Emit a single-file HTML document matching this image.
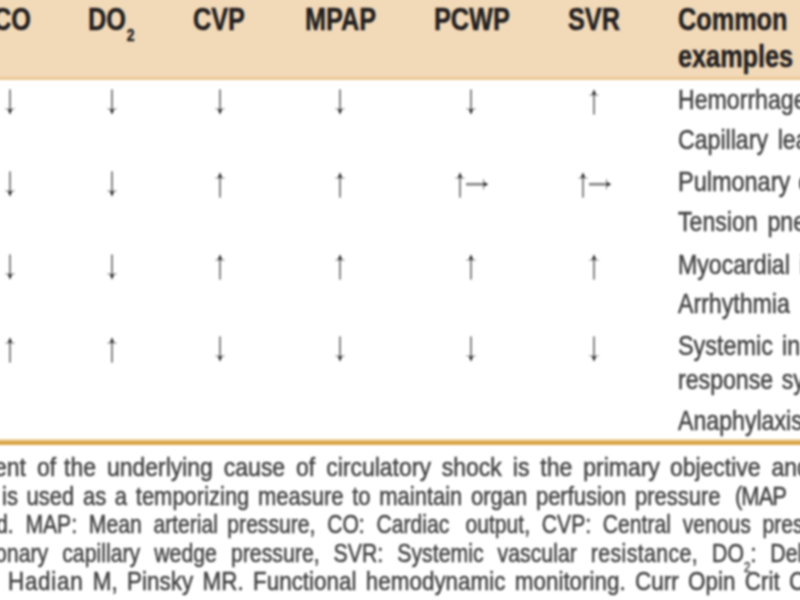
<!DOCTYPE html>
<html><head><meta charset="utf-8"><title>Table</title>
<style>
html,body{margin:0;padding:0;background:#fff;}
body{width:800px;height:600px;overflow:hidden;position:relative;font-family:"Liberation Sans",sans-serif;}
#wrap{position:absolute;left:0;top:0;filter:blur(1.2px);}
.hdr{position:absolute;left:-20px;top:-20px;width:840px;height:96.5px;background:#f2d9b8;}
.hline{position:absolute;left:-20px;top:76.5px;width:840px;height:3.7px;background:#ebc996;}
.b1{position:absolute;left:-20px;top:439.4px;width:840px;height:2px;background:#eed2a3;}
.b2{position:absolute;left:-20px;top:441.4px;width:840px;height:3.4px;background:#dba446;}
.t{position:absolute;white-space:nowrap;transform-origin:0 0;line-height:normal;-webkit-text-stroke:0.5px;}
.sub{font-size:55%;position:relative;top:0.62em;margin-left:1px;}
.sub2{font-size:54%;position:relative;top:0.70em;}
svg{position:absolute;overflow:visible;}
</style></head><body><div id="wrap">
<div class="hdr"></div><div class="hline"></div><div class="b1"></div><div class="b2"></div>

<div class="t" style="left:-7.5px;top:2.14px;font-size:31px;transform:scaleX(0.815);color:#231f20;font-weight:bold;">CO</div>
<div class="t" style="left:88px;top:2.14px;font-size:31px;transform:scaleX(0.815);color:#231f20;font-weight:bold;">DO<span class="sub">2</span></div>
<div class="t" style="left:193px;top:2.14px;font-size:31px;transform:scaleX(0.815);color:#231f20;font-weight:bold;">CVP</div>
<div class="t" style="left:305px;top:2.14px;font-size:31px;transform:scaleX(0.815);color:#231f20;font-weight:bold;">MPAP</div>
<div class="t" style="left:433.5px;top:2.14px;font-size:31px;transform:scaleX(0.815);color:#231f20;font-weight:bold;">PCWP</div>
<div class="t" style="left:567.5px;top:2.14px;font-size:31px;transform:scaleX(0.815);color:#231f20;font-weight:bold;">SVR</div>
<div class="t" style="left:677.8px;top:2.14px;font-size:31px;transform:scaleX(0.815);color:#231f20;font-weight:bold;">Common</div>
<div class="t" style="left:677.8px;top:38.74px;font-size:31px;transform:scaleX(0.815);color:#231f20;font-weight:bold;">examples</div>
<div class="t" style="left:678.1px;top:84.21px;font-size:28px;transform:scaleX(0.826);color:#424242;">Hemorrhage</div>
<div class="t" style="left:678.1px;top:124.21px;font-size:28px;transform:scaleX(0.826);color:#424242;word-spacing:4px;">Capillary&nbsp;leak</div>
<div class="t" style="left:678.1px;top:166.46px;font-size:28px;transform:scaleX(0.8383899999999999);color:#424242;word-spacing:1.8px;">Pulmonary&nbsp;embolism</div>
<div class="t" style="left:678.1px;top:206.46px;font-size:28px;transform:scaleX(0.826);color:#424242;word-spacing:4px;">Tension&nbsp;pneumothorax</div>
<div class="t" style="left:678.1px;top:248.66px;font-size:28px;transform:scaleX(0.826);color:#424242;word-spacing:4px;">Myocardial&nbsp;infarction</div>
<div class="t" style="left:678.1px;top:287.96px;font-size:28px;transform:scaleX(0.826);color:#424242;">Arrhythmia</div>
<div class="t" style="left:678.1px;top:330.26px;font-size:28px;transform:scaleX(0.835912);color:#424242;word-spacing:3px;">Systemic&nbsp;in</div>
<div class="t" style="left:678.1px;top:364.21px;font-size:28px;transform:scaleX(0.826);color:#424242;word-spacing:2.6px;">response&nbsp;syndrome</div>
<div class="t" style="left:678.1px;top:405.46px;font-size:28px;transform:scaleX(0.826);color:#424242;">Anaphylaxis</div>
<div class="t" style="left:-6.5px;top:452.32px;font-size:26.5px;transform:scaleX(0.867);color:#424242;word-spacing:5.26px;">ent of<i style="margin-left:-3.46px"></i> the underlying cause of circulatory shock is the primary<i style="margin-left:-1px"></i> objective and</div>
<div class="t" style="left:2.1px;top:480.72px;font-size:26.5px;transform:scaleX(0.829);color:#424242;word-spacing:3.15px;">is used as a temporizing measure to maintain organ perfusion pressure<i style="margin-left:7px"></i> <span style="letter-spacing:-1.2px">(MAP</span></div>
<div class="t" style="left:-4.5px;top:509.22px;font-size:26.5px;transform:scaleX(0.797);color:#424242;word-spacing:7.41px;">d. MAP: Mean arterial<i style="margin-left:-3px"></i> pressure, CO: Cardiac<i style="margin-left:5.5px"></i> output, CVP: Central venous pressure</div>
<div class="t" style="left:-4.7px;top:537.72px;font-size:26.5px;transform:scaleX(0.803);color:#424242;word-spacing:10.05px;">onary capillary wedge pressure, SVR: Systemic vascular <span style="letter-spacing:0.5px">resistance,</span> DO<span class="sub2">2</span>: Deli</div>
<div class="t" style="left:8.3px;top:566.22px;font-size:26.5px;transform:scaleX(0.846);color:#424242;word-spacing:3.74px;"><span style="letter-spacing:0.86px">Hadian</span> M, Pinsky MR. Functional hemodynamic monitoring. Curr Opin Crit Care</div>
<svg style="left:5.00px;top:89.60px" width="10" height="25" viewBox="0 0 10 25"><rect x="4" y="-0.6" width="2" height="19.6" fill="#858585"/><rect x="0.2" y="18.4" width="9.6" height="1" fill="#8a8a8a"/><path d="M2.6,19.2 L7.4,19.2 L5,24.8 Z" fill="#2c2c2c"/></svg>
<svg style="left:106.60px;top:89.60px" width="10" height="25" viewBox="0 0 10 25"><rect x="4" y="-0.6" width="2" height="19.6" fill="#858585"/><rect x="0.2" y="18.4" width="9.6" height="1" fill="#8a8a8a"/><path d="M2.6,19.2 L7.4,19.2 L5,24.8 Z" fill="#2c2c2c"/></svg>
<svg style="left:214.70px;top:89.60px" width="10" height="25" viewBox="0 0 10 25"><rect x="4" y="-0.6" width="2" height="19.6" fill="#858585"/><rect x="0.2" y="18.4" width="9.6" height="1" fill="#8a8a8a"/><path d="M2.6,19.2 L7.4,19.2 L5,24.8 Z" fill="#2c2c2c"/></svg>
<svg style="left:335.00px;top:89.60px" width="10" height="25" viewBox="0 0 10 25"><rect x="4" y="-0.6" width="2" height="19.6" fill="#858585"/><rect x="0.2" y="18.4" width="9.6" height="1" fill="#8a8a8a"/><path d="M2.6,19.2 L7.4,19.2 L5,24.8 Z" fill="#2c2c2c"/></svg>
<svg style="left:466.00px;top:89.60px" width="10" height="25" viewBox="0 0 10 25"><rect x="4" y="-0.6" width="2" height="19.6" fill="#858585"/><rect x="0.2" y="18.4" width="9.6" height="1" fill="#8a8a8a"/><path d="M2.6,19.2 L7.4,19.2 L5,24.8 Z" fill="#2c2c2c"/></svg>
<svg style="left:589.00px;top:89.00px" width="10" height="25" viewBox="0 0 10 25"><g transform="rotate(180 5 12.5)"><rect x="4" y="-0.6" width="2" height="19.6" fill="#858585"/><rect x="0.2" y="18.4" width="9.6" height="1" fill="#8a8a8a"/><path d="M2.6,19.2 L7.4,19.2 L5,24.8 Z" fill="#2c2c2c"/></g></svg>
<svg style="left:5.00px;top:172.40px" width="10" height="25" viewBox="0 0 10 25"><rect x="4" y="-0.6" width="2" height="19.6" fill="#858585"/><rect x="0.2" y="18.4" width="9.6" height="1" fill="#8a8a8a"/><path d="M2.6,19.2 L7.4,19.2 L5,24.8 Z" fill="#2c2c2c"/></svg>
<svg style="left:106.60px;top:172.40px" width="10" height="25" viewBox="0 0 10 25"><rect x="4" y="-0.6" width="2" height="19.6" fill="#858585"/><rect x="0.2" y="18.4" width="9.6" height="1" fill="#8a8a8a"/><path d="M2.6,19.2 L7.4,19.2 L5,24.8 Z" fill="#2c2c2c"/></svg>
<svg style="left:214.70px;top:171.80px" width="10" height="25" viewBox="0 0 10 25"><g transform="rotate(180 5 12.5)"><rect x="4" y="-0.6" width="2" height="19.6" fill="#858585"/><rect x="0.2" y="18.4" width="9.6" height="1" fill="#8a8a8a"/><path d="M2.6,19.2 L7.4,19.2 L5,24.8 Z" fill="#2c2c2c"/></g></svg>
<svg style="left:335.00px;top:171.80px" width="10" height="25" viewBox="0 0 10 25"><g transform="rotate(180 5 12.5)"><rect x="4" y="-0.6" width="2" height="19.6" fill="#858585"/><rect x="0.2" y="18.4" width="9.6" height="1" fill="#8a8a8a"/><path d="M2.6,19.2 L7.4,19.2 L5,24.8 Z" fill="#2c2c2c"/></g></svg>
<svg style="left:455.00px;top:171.80px" width="10" height="25" viewBox="0 0 10 25"><g transform="rotate(180 5 12.5)"><rect x="4" y="-0.6" width="2" height="19.6" fill="#858585"/><rect x="0.2" y="18.4" width="9.6" height="1" fill="#8a8a8a"/><path d="M2.6,19.2 L7.4,19.2 L5,24.8 Z" fill="#2c2c2c"/></g></svg>
<svg style="left:465.80px;top:179.35px" width="22.5" height="10.5" viewBox="0 0 22.5 10.5"><rect x="0" y="3.9" width="17.6" height="2.7" fill="#858585"/><rect x="17" y="0" width="1" height="10.5" fill="#8a8a8a"/><path d="M17.8,2.8 L17.8,7.7 L22.3,5.25 Z" fill="#2c2c2c"/></svg>
<svg style="left:578.00px;top:171.80px" width="10" height="25" viewBox="0 0 10 25"><g transform="rotate(180 5 12.5)"><rect x="4" y="-0.6" width="2" height="19.6" fill="#858585"/><rect x="0.2" y="18.4" width="9.6" height="1" fill="#8a8a8a"/><path d="M2.6,19.2 L7.4,19.2 L5,24.8 Z" fill="#2c2c2c"/></g></svg>
<svg style="left:588.80px;top:179.35px" width="22.5" height="10.5" viewBox="0 0 22.5 10.5"><rect x="0" y="3.9" width="17.6" height="2.7" fill="#858585"/><rect x="17" y="0" width="1" height="10.5" fill="#8a8a8a"/><path d="M17.8,2.8 L17.8,7.7 L22.3,5.25 Z" fill="#2c2c2c"/></svg>
<svg style="left:5.00px;top:254.70px" width="10" height="25" viewBox="0 0 10 25"><rect x="4" y="-0.6" width="2" height="19.6" fill="#858585"/><rect x="0.2" y="18.4" width="9.6" height="1" fill="#8a8a8a"/><path d="M2.6,19.2 L7.4,19.2 L5,24.8 Z" fill="#2c2c2c"/></svg>
<svg style="left:106.60px;top:254.70px" width="10" height="25" viewBox="0 0 10 25"><rect x="4" y="-0.6" width="2" height="19.6" fill="#858585"/><rect x="0.2" y="18.4" width="9.6" height="1" fill="#8a8a8a"/><path d="M2.6,19.2 L7.4,19.2 L5,24.8 Z" fill="#2c2c2c"/></svg>
<svg style="left:214.70px;top:254.10px" width="10" height="25" viewBox="0 0 10 25"><g transform="rotate(180 5 12.5)"><rect x="4" y="-0.6" width="2" height="19.6" fill="#858585"/><rect x="0.2" y="18.4" width="9.6" height="1" fill="#8a8a8a"/><path d="M2.6,19.2 L7.4,19.2 L5,24.8 Z" fill="#2c2c2c"/></g></svg>
<svg style="left:335.00px;top:254.10px" width="10" height="25" viewBox="0 0 10 25"><g transform="rotate(180 5 12.5)"><rect x="4" y="-0.6" width="2" height="19.6" fill="#858585"/><rect x="0.2" y="18.4" width="9.6" height="1" fill="#8a8a8a"/><path d="M2.6,19.2 L7.4,19.2 L5,24.8 Z" fill="#2c2c2c"/></g></svg>
<svg style="left:466.00px;top:254.10px" width="10" height="25" viewBox="0 0 10 25"><g transform="rotate(180 5 12.5)"><rect x="4" y="-0.6" width="2" height="19.6" fill="#858585"/><rect x="0.2" y="18.4" width="9.6" height="1" fill="#8a8a8a"/><path d="M2.6,19.2 L7.4,19.2 L5,24.8 Z" fill="#2c2c2c"/></g></svg>
<svg style="left:589.00px;top:254.10px" width="10" height="25" viewBox="0 0 10 25"><g transform="rotate(180 5 12.5)"><rect x="4" y="-0.6" width="2" height="19.6" fill="#858585"/><rect x="0.2" y="18.4" width="9.6" height="1" fill="#8a8a8a"/><path d="M2.6,19.2 L7.4,19.2 L5,24.8 Z" fill="#2c2c2c"/></g></svg>
<svg style="left:5.00px;top:336.70px" width="10" height="25" viewBox="0 0 10 25"><g transform="rotate(180 5 12.5)"><rect x="4" y="-0.6" width="2" height="19.6" fill="#858585"/><rect x="0.2" y="18.4" width="9.6" height="1" fill="#8a8a8a"/><path d="M2.6,19.2 L7.4,19.2 L5,24.8 Z" fill="#2c2c2c"/></g></svg>
<svg style="left:106.60px;top:336.70px" width="10" height="25" viewBox="0 0 10 25"><g transform="rotate(180 5 12.5)"><rect x="4" y="-0.6" width="2" height="19.6" fill="#858585"/><rect x="0.2" y="18.4" width="9.6" height="1" fill="#8a8a8a"/><path d="M2.6,19.2 L7.4,19.2 L5,24.8 Z" fill="#2c2c2c"/></g></svg>
<svg style="left:214.70px;top:337.30px" width="10" height="25" viewBox="0 0 10 25"><rect x="4" y="-0.6" width="2" height="19.6" fill="#858585"/><rect x="0.2" y="18.4" width="9.6" height="1" fill="#8a8a8a"/><path d="M2.6,19.2 L7.4,19.2 L5,24.8 Z" fill="#2c2c2c"/></svg>
<svg style="left:335.00px;top:337.30px" width="10" height="25" viewBox="0 0 10 25"><rect x="4" y="-0.6" width="2" height="19.6" fill="#858585"/><rect x="0.2" y="18.4" width="9.6" height="1" fill="#8a8a8a"/><path d="M2.6,19.2 L7.4,19.2 L5,24.8 Z" fill="#2c2c2c"/></svg>
<svg style="left:466.00px;top:337.30px" width="10" height="25" viewBox="0 0 10 25"><rect x="4" y="-0.6" width="2" height="19.6" fill="#858585"/><rect x="0.2" y="18.4" width="9.6" height="1" fill="#8a8a8a"/><path d="M2.6,19.2 L7.4,19.2 L5,24.8 Z" fill="#2c2c2c"/></svg>
<svg style="left:589.00px;top:337.30px" width="10" height="25" viewBox="0 0 10 25"><rect x="4" y="-0.6" width="2" height="19.6" fill="#858585"/><rect x="0.2" y="18.4" width="9.6" height="1" fill="#8a8a8a"/><path d="M2.6,19.2 L7.4,19.2 L5,24.8 Z" fill="#2c2c2c"/></svg>
</div></body></html>
